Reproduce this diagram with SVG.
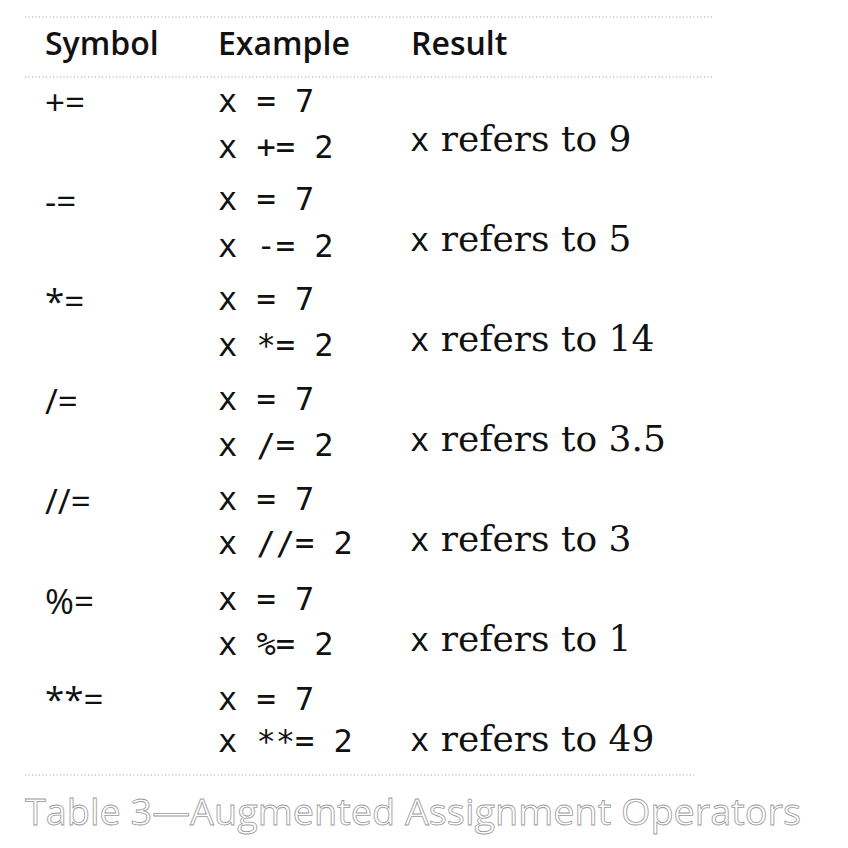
<svg xmlns="http://www.w3.org/2000/svg" width="848" height="848" viewBox="0 0 848 848">
<style>
.rule{stroke:#9a9a9a;stroke-width:1.2;stroke-dasharray:1 2.5;fill:none}
.hdr{font-family:"Open Sans","DejaVu Sans",sans-serif;font-weight:600;font-size:32px;fill:#111}
.sym{font-family:"Open Sans","DejaVu Sans",sans-serif;font-size:35px;fill:#111}
.ex{font-family:"DejaVu Sans Mono","Liberation Mono",monospace;font-size:32px;fill:#111;white-space:pre}
.res{font-family:"DejaVu Serif","Liberation Serif",serif;font-size:36px;fill:#111}
.rx{font-family:"DejaVu Sans Mono",monospace;font-size:32px}
.cap{font-family:"Open Sans","DejaVu Sans",sans-serif;font-size:37px;fill:#fff;stroke:#9a9a9a;stroke-width:0.8}
</style>
<rect width="848" height="848" fill="#fff"/>
<g id="rules">
<line class="rule" x1="25" y1="17" x2="712" y2="17"/>
<line class="rule" x1="25" y1="77" x2="712" y2="77"/>
<line class="rule" x1="25" y1="775" x2="696" y2="775"/>
</g>
<g id="header">
<text class="hdr" x="45" y="55">Symbol</text>
<text class="hdr" x="218" y="55">Example</text>
<text class="hdr" x="411" y="55">Result</text>
</g>
<g id="row1">
<text class="sym" x="45" y="115">+=</text>
<text class="ex" x="218" y="112">x = 7</text>
<text class="ex" x="218" y="158">x += 2</text>
<text class="res" x="410" y="151"><tspan class="rx">x</tspan> refers to 9</text>
</g>
<g id="row2">
<text class="sym" x="45" y="214">-=</text>
<text class="ex" x="218" y="210">x = 7</text>
<text class="ex" x="218" y="257">x -= 2</text>
<text class="res" x="410" y="251"><tspan class="rx">x</tspan> refers to 5</text>
</g>
<g id="row3">
<text class="sym" x="45" y="314">*=</text>
<text class="ex" x="218" y="310">x = 7</text>
<text class="ex" x="218" y="356">x *= 2</text>
<text class="res" x="410" y="351"><tspan class="rx">x</tspan> refers to 14</text>
</g>
<g id="row4">
<text class="sym" x="45" y="414">/=</text>
<text class="ex" x="218" y="410">x = 7</text>
<text class="ex" x="218" y="456">x /= 2</text>
<text class="res" x="410" y="451"><tspan class="rx">x</tspan> refers to 3.5</text>
</g>
<g id="row5">
<text class="sym" x="45" y="514">//=</text>
<text class="ex" x="218" y="510">x = 7</text>
<text class="ex" x="218" y="554">x //= 2</text>
<text class="res" x="410" y="551"><tspan class="rx">x</tspan> refers to 3</text>
</g>
<g id="row6">
<text class="sym" x="45" y="614">%=</text>
<text class="ex" x="218" y="610">x = 7</text>
<text class="ex" x="218" y="655">x %= 2</text>
<text class="res" x="410" y="651"><tspan class="rx">x</tspan> refers to 1</text>
</g>
<g id="row7">
<text class="sym" x="45" y="712">**=</text>
<text class="ex" x="218" y="710">x = 7</text>
<text class="ex" x="218" y="752">x **= 2</text>
<text class="res" x="410" y="751"><tspan class="rx">x</tspan> refers to 49</text>
</g>
<g id="caption">
<text class="cap" x="25" y="825" textLength="776" lengthAdjust="spacingAndGlyphs">Table 3—Augmented Assignment Operators</text>
</g>
</svg>
